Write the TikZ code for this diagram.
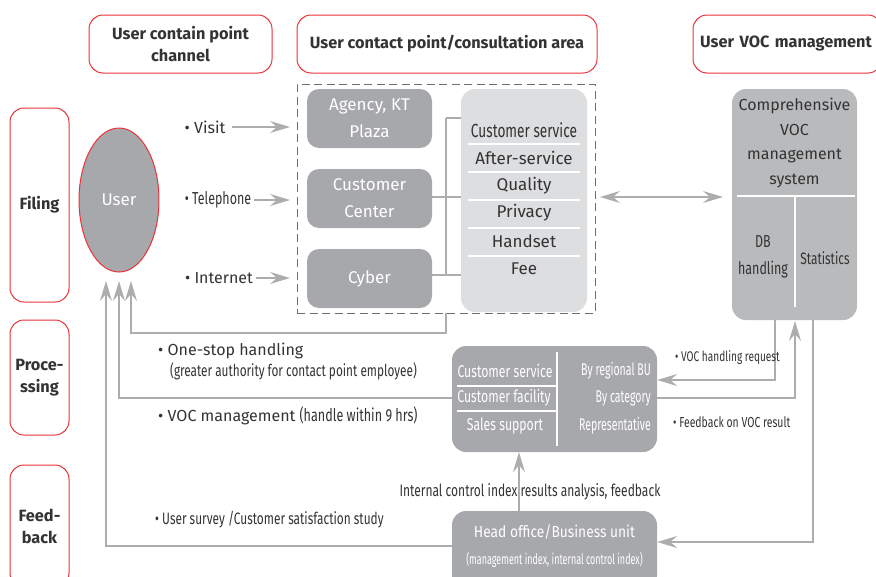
\documentclass[tikz,border=0pt]{standalone}
\usepackage{fontspec}
\setmainfont{Fira Sans}
\newfontfamily\narrowfont[FakeStretch=0.72]{Fira Sans}
\newfontfamily\xnarrowfont[FakeStretch=0.62]{Fira Sans}
\newfontfamily\midfont[FakeStretch=0.86]{Fira Sans}
\usetikzlibrary{arrows.meta,shapes.geometric}

\definecolor{hdrred}{HTML}{E8333A}
\definecolor{boxdark}{HTML}{A7A8AB}
\definecolor{boxlight}{HTML}{DDDEE0}
\definecolor{boxmid}{HTML}{B9BABC}
\definecolor{linegray}{HTML}{ADADAD}
\definecolor{dashgray}{HTML}{6E6E6E}
\definecolor{txt}{HTML}{333333}

\tikzset{
  hdr/.style={draw=hdrred, line width=1pt, fill=white, rounded corners=14pt,
    align=center, text=txt, font=\fontsize{16.3}{22}\selectfont\bfseries, inner sep=0pt},
  darkbox/.style={fill=boxdark, rounded corners=12pt, align=center, text=white,
    font=\fontsize{17}{27}\selectfont, inner sep=0pt},
  conn/.style={draw=linegray, line width=1.4pt},
  tip/.style={-{Stealth[length=20pt,width=12pt,inset=7pt]}, conn},
  bothtip/.style={{Stealth[length=20pt,width=12pt,inset=7pt]}-{Stealth[length=20pt,width=12pt,inset=7pt]}, conn},
  sep/.style={draw=white, line width=1.2pt},
  lbl/.style={text=txt, inner sep=1pt},
}

\begin{document}
\begin{tikzpicture}[x=1pt,y=-1pt]
\useasboundingbox (0,0) rectangle (876,576);
\clip (0,0) rectangle (876,576);

% column headers
\node[hdr, minimum width=183pt, minimum height=58pt] (h1) at (180.5,44) {User contain point\\channel};
\node[hdr, minimum width=300pt, minimum height=58pt] (h2) at (447,44) {User contact point/consultation area};
\node[hdr, minimum width=189pt, minimum height=58pt, text width=183pt] (h3) at (787.5,44) {\hspace*{-3pt}User VOC management};

% row headers
\node[hdr, minimum width=59pt, minimum height=194pt] (rFiling) at (39.5,205) {Filing};
\node[hdr, minimum width=59pt, minimum height=115pt] (rProc) at (39.5,377.5) {Proce-\\ssing};
\node[hdr, minimum width=59pt, minimum height=122pt] (rFeed) at (39.5,526) {Feed-\\back};

% user
\node[ellipse, draw=hdrred, line width=1pt, fill=boxdark, minimum width=80pt, minimum height=144pt,
  inner sep=0pt, text=white, font=\fontsize{17}{20}\selectfont] (user) at (119,200) {User};

% contact point area
\node[draw=dashgray, dash pattern=on 8pt off 4.5pt, line width=1pt, minimum width=298pt,
  minimum height=229pt, inner sep=0pt] (area) at (446,198.5) {};

\node[darkbox, minimum width=125pt, minimum height=59pt] (agency) at (369.5,118.5) {Agency, KT\\Plaza};
\node[darkbox, minimum width=125pt, minimum height=59pt] (center) at (369.5,198.5) {Customer\\Center};
\node[darkbox, minimum width=125pt, minimum height=59pt] (cyber) at (369.5,278.5) {Cyber};

\node[fill=boxlight, rounded corners=14pt, minimum width=126pt, minimum height=223pt, inner sep=0pt] (topics) at (524,200.5) {};
\foreach \yy in {144,172,200,228,256} \draw[sep] (468,\yy) -- (580,\yy);
\begin{scope}[every node/.style={text=txt, font=\fontsize{17}{20}\selectfont}]
  \node (tCS) at (524,130) {\narrowfont\fontsize{19}{22}\selectfont Customer service};
  \node (tAS) at (524,158) {After-service};
  \node (tQ) at (524,186) {Quality};
  \node (tP) at (524,213) {Privacy};
  \node (tH) at (524,241) {Handset};
  \node (tF) at (524,269) {Fee};
\end{scope}

% bracket joining the channels to the topics
\coordinate (brTop) at (446,118);
\coordinate (brBot) at (446,275);
\draw[conn] (brTop) -- (brBot);
\draw[conn] (brTop) -- (topics.west |- brTop);
\draw[conn] (center.east |- 0,197) -- (topics.west |- 0,197);
\draw[conn] (cyber.east |- brBot) -- (topics.west |- brBot);

% channel labels
\node[lbl, font=\fontsize{16}{20}\selectfont] (visit) at (205,127) {\textbullet\ Visit};
\node[lbl, font=\narrowfont\fontsize{17.3}{20}\selectfont] (tel) at (218,200) {\textbullet\ Telephone};
\node[lbl, font=\fontsize{16}{20}\selectfont] (inet) at (219,278) {\textbullet\ Internet};
\draw[tip] ([xshift=6pt]visit.east) -- (290,127);
\draw[tip] ([xshift=2pt]tel.east) -- (290,200);
\draw[tip] ([xshift=2pt]inet.east) -- (290,278);

% VOC management system
\node[fill=boxmid, rounded corners=14pt, minimum width=125pt, minimum height=231pt, inner sep=0pt] (voc) at (794.5,204.5) {};
\draw[sep] (737,196) -- (855,196);
\draw[sep] (795,196) -- (795,307);
\node[text=txt, align=center, font=\fontsize{16}{24.5}\selectfont] (vocTitle) at (794.5,143) {Comprehensive\\VOC\\management\\system};
\node[text=txt, align=center, font=\narrowfont\fontsize{17.3}{27}\selectfont] (vocDB) at (763,257) {DB\\handling};
\node[text=txt, font=\narrowfont\fontsize{16.5}{20}\selectfont] (vocStat) at (825,258) {Statistics};

\draw[bothtip] (600,197) -- (723,197);

% processing unit
\node[darkbox, rounded corners=14pt, minimum width=205pt, minimum height=106pt] (proc) at (554.5,399) {};
\draw[sep] (557,352) -- (557,446);
\draw[sep] (457,386) -- (557,386);
\draw[sep] (457,411) -- (557,411);
\begin{scope}[every node/.style={text=white, font=\narrowfont\fontsize{17}{20}\selectfont, inner sep=0pt}]
  \node (pCS) at (505,371) {Customer service};
  \node (pCF) at (504,398) {Customer facility};
  \node (pSS) at (505,426) {Sales support};
\end{scope}
\begin{scope}[every node/.style={text=white, font=\xnarrowfont\fontsize{17}{20}\selectfont, inner sep=0pt, anchor=east}]
  \node (pBU) at (651,371) {By regional BU};
  \node (pBC) at (651,398) {By category};
  \node (pRep) at (651,426) {Representative};
\end{scope}

% head office
\node[darkbox, rounded corners=14pt, minimum width=205pt, minimum height=78pt] (head) at (554.5,550) {};
\node[text=white, font=\midfont\fontsize{16}{20}\selectfont] (headT) at (554.5,532) {Head office/Business unit};
\node[text=white, font=\xnarrowfont\fontsize{14.5}{16}\selectfont] (headS) at (554.5,560) {(management index, internal control index)};

% feedback loops back to the user
\coordinate (areaOut) at (446,313);
\draw[tip] (areaOut) -- (446,333) -- (131,333) -- (131,281);
\draw[tip] (proc.west |- 0,398) -- (119,398) -- (119,281);
\draw[tip] (head.west |- 0,546) -- (106,546) -- (106,281);

% VOC system <-> processing / head office
\draw[tip] (775,320) -- (775,380) -- (proc.east |- 0,380);
\draw[tip] (proc.east |- 0,398) -- (795,398) -- (795,321);
\draw[tip] (813,320) -- (813,542) -- (head.east |- 0,542);
\draw[tip] (head.north -| 519,0) -- (proc.south -| 519,0);

% loop labels
\node[lbl, anchor=west, font=\fontsize{16}{20}\selectfont] (oneStop) at (157,351) {\textbullet\ One-stop handling};
\node[lbl, anchor=west, font=\narrowfont\fontsize{16.4}{18}\selectfont] (oneStopSub) at (169,371) {(greater authority for contact point employee)};
\node[lbl, anchor=west, font=\fontsize{16}{20}\selectfont] (vocMgmt) at (157,416) {\textbullet\ VOC management {\narrowfont\fontsize{17.5}{18}\selectfont(handle within 9 hrs)}};
\node[lbl, anchor=west, font=\narrowfont\fontsize{16.5}{18}\selectfont] (survey) at (154,520) {\textbullet\ User survey /Customer satisfaction study};
\node[lbl, font=\narrowfont\fontsize{16.7}{18}\selectfont] (internal) at (530,492) {Internal control index results analysis, feedback};
\node[lbl, anchor=west, font=\narrowfont\fontsize{14}{16}\selectfont] (reqLbl) at (674,358) {\textbullet\ VOC handling request};
\node[lbl, anchor=west, font=\narrowfont\fontsize{14.5}{16}\selectfont] (fbLbl) at (672,422) {\textbullet\ Feedback on VOC result};
\end{tikzpicture}
\end{document}
